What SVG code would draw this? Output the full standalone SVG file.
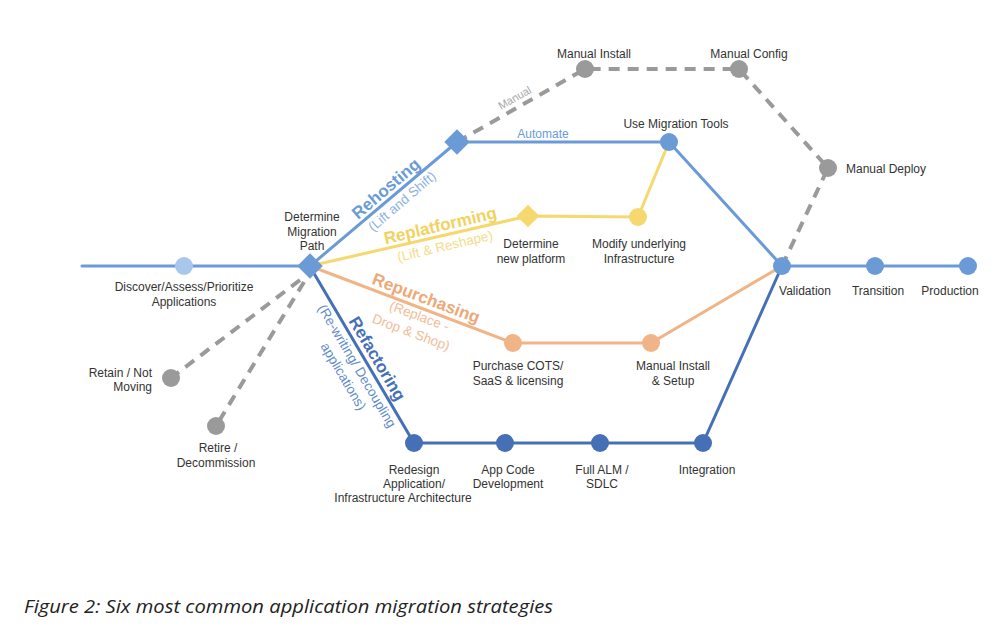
<svg xmlns="http://www.w3.org/2000/svg" width="1001" height="630" viewBox="0 0 1001 630">
<style>
.l{fill:none;stroke-width:3;stroke-linecap:round}
.b{stroke:#6b9bd7}.db{stroke:#4670b5}.y{stroke:#f5d86e}.o{stroke:#f0b487}
.g{stroke:#9a9a9a;stroke-width:4;stroke-dasharray:11 8;stroke-linecap:butt}
text{font-family:"Liberation Sans",Arial,sans-serif;font-size:12px;fill:#333}
.c{text-anchor:middle}
.bold{font-weight:bold;font-size:17px;text-anchor:middle}
.sub{font-size:13.5px;text-anchor:middle}
</style>
<rect width="1001" height="630" fill="#fff"/>
<g id="connectors">
<line class="l b" x1="82" y1="266" x2="310" y2="266"/>
<line class="l b" x1="782" y1="266" x2="968" y2="266"/>
<line class="l b" x1="310" y1="266" x2="457" y2="142"/>
<line class="l b" x1="457" y1="142" x2="669" y2="142"/>
<line class="l b" x1="669" y1="142" x2="782" y2="266"/>
<polyline class="l y" points="310,266 528,216 638,217 669,142"/>
<polyline class="l o" points="310,266 513,343 651,343 782,266"/>
<polyline class="l db" points="312,270 414,443 703,443 782,266"/>
<polyline class="g" fill="none" points="457,142 585,69 739,69 828,168 782,266"/>
<line class="g" x1="300" y1="280" x2="171" y2="378"/>
<line class="g" x1="304" y1="282" x2="216" y2="426"/>
</g>
<g id="labels">
<g transform="translate(310,266) rotate(-40.4)">
<text class="bold" x="108" y="-4" style="fill:#6b9bd7">Rehosting</text>
<text class="sub" x="112" y="15" style="fill:#8fb2e2">(Lift and Shift)</text>
</g>
<g transform="translate(310,266) rotate(-13.2)">
<text class="bold" x="136" y="-4" style="fill:#f2d25e">Replatforming</text>
<text class="sub" x="136" y="16" style="fill:#f5dc8a">(Lift &amp; Reshape)</text>
</g>
<g transform="translate(310,266) rotate(20.6)">
<text class="bold" x="120" y="-5" style="fill:#eda878">Repurchasing</text>
<text class="sub" x="120" y="13" style="fill:#f1bd97">(Replace -</text>
<text class="sub" x="118" y="31" style="fill:#f1bd97">Drop &amp; Shop)</text>
</g>
<g transform="translate(310,266) rotate(59.4)">
<text class="bold" x="114" y="-5" style="fill:#4670b5">Refactoring</text>
<text class="sub" x="110" y="15" style="fill:#5f8cca">(Re-writing/ Decoupling</text>
<text class="sub" x="112" y="32" style="fill:#5f8cca">applications)</text>
</g>
<g transform="translate(457,142) rotate(-29.7)">
<text class="c" x="72" y="-6" style="fill:#a8a8a8;font-size:11px">Manual</text>
</g>
<text class="c" x="543" y="138" style="fill:#6b9bd7">Automate</text>
</g>
<g id="discover"><circle cx="184" cy="266" r="9" fill="#a9c7ec"/><text class="c" x="184" y="291">Discover/Assess/Prioritize</text><text class="c" x="184" y="306">Applications</text></g>
<g id="determine-path"><rect x="301" y="257" width="18" height="18" transform="rotate(45 310 266)" fill="#6b9bd7"/><text class="c" x="312" y="221">Determine</text><text class="c" x="312" y="236">Migration</text><text class="c" x="312" y="250">Path</text></g>
<g id="retain"><circle cx="171" cy="378" r="9" fill="#9a9a9a"/><text x="152" y="377" text-anchor="end">Retain / Not</text><text x="152" y="391" text-anchor="end">Moving</text></g>
<g id="retire"><circle cx="216" cy="426" r="9" fill="#9a9a9a"/><text class="c" x="218" y="452">Retire /</text><text class="c" x="216" y="467">Decommission</text></g>
<g id="rehost-split"><rect x="448" y="133" width="18" height="18" transform="rotate(45 457 142)" fill="#6b9bd7"/></g>
<g id="manual-install"><circle cx="585" cy="69" r="9" fill="#9a9a9a"/><text class="c" x="594" y="58">Manual Install</text></g>
<g id="manual-config"><circle cx="739" cy="69" r="9" fill="#9a9a9a"/><text class="c" x="749" y="58">Manual Config</text></g>
<g id="manual-deploy"><circle cx="828" cy="168" r="9" fill="#9a9a9a"/><text x="846" y="173">Manual Deploy</text></g>
<g id="migration-tools"><circle cx="669" cy="142" r="9" fill="#6b9bd7"/><text class="c" x="676" y="128">Use Migration Tools</text></g>
<g id="new-platform"><rect x="520" y="208" width="16" height="16" transform="rotate(45 528 216)" fill="#f5d86e"/><text class="c" x="531" y="248">Determine</text><text class="c" x="531" y="263">new platform</text></g>
<g id="modify-infra"><circle cx="638" cy="217" r="9" fill="#f5d86e"/><text class="c" x="639" y="248">Modify underlying</text><text class="c" x="639" y="263">Infrastructure</text></g>
<g id="purchase"><circle cx="513" cy="343" r="9" fill="#f0b487"/><text class="c" x="518" y="370">Purchase COTS/</text><text class="c" x="518" y="385">SaaS &amp; licensing</text></g>
<g id="manual-setup"><circle cx="651" cy="343" r="9" fill="#f0b487"/><text class="c" x="673" y="370">Manual Install</text><text class="c" x="673" y="385">&amp; Setup</text></g>
<g id="redesign"><circle cx="414" cy="443" r="9" fill="#4670b5"/><text class="c" x="414" y="474">Redesign</text><text class="c" x="414" y="488">Application/</text><text class="c" x="403" y="502">Infrastructure Architecture</text></g>
<g id="app-code"><circle cx="505" cy="443" r="9" fill="#4670b5"/><text class="c" x="508" y="474">App Code</text><text class="c" x="508" y="488">Development</text></g>
<g id="alm"><circle cx="600" cy="443" r="9" fill="#4670b5"/><text class="c" x="602" y="474">Full ALM /</text><text class="c" x="602" y="488">SDLC</text></g>
<g id="integration"><circle cx="703" cy="443" r="9" fill="#4670b5"/><text class="c" x="707" y="474">Integration</text></g>
<g id="validation"><circle cx="782" cy="266" r="9" fill="#6b9bd7"/><text class="c" x="805" y="295">Validation</text></g>
<g id="transition"><circle cx="875" cy="266" r="9" fill="#6b9bd7"/><text class="c" x="878" y="295">Transition</text></g>
<g id="production"><circle cx="968" cy="266" r="9" fill="#6b9bd7"/><text class="c" x="950" y="295">Production</text></g>
<text x="24" y="613" textLength="529" lengthAdjust="spacingAndGlyphs" style="font-family:'Open Sans','Liberation Sans',sans-serif;font-style:italic;font-size:18px;fill:#222">Figure 2: Six most common application migration strategies</text>
</svg>
